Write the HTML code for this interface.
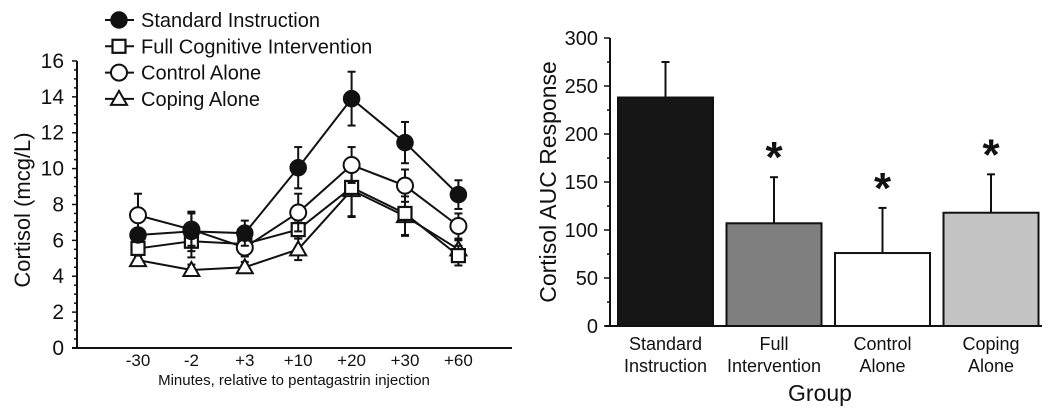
<!DOCTYPE html>
<html><head><meta charset="utf-8"><style>
body{margin:0;background:#fff}
svg text{font-family:"Liberation Sans",Arial,sans-serif;fill:#111}
</style></head><body>
<svg id="c" width="1050" height="413" viewBox="0 0 1050 413" xmlns="http://www.w3.org/2000/svg"></svg>
<script>
const timeCats=["-30","-2","+3","+10","+20","+30","+60"];
const stdVals=[6.3,6.5,6.4,10.05,13.9,11.45,8.55];
const stdErr=[0.3,1.1,0.7,1.15,1.5,1.15,0.8];
const fullVals=[5.55,5.95,5.8,6.6,8.95,7.5,5.15];
const fullErr=[0.4,0.9,0.4,0.5,1.6,1.2,0.55];
const ctrlVals=[7.4,6.6,5.6,7.55,10.2,9.05,6.8];
const ctrlErr=[1.2,0.9,0.5,1.05,1.0,0.9,0.7];
const copVals=[4.9,4.35,4.5,5.5,8.8,7.35,5.5];
const copErr=[0.2,0.3,0.3,0.6,1.5,1.1,0.5];
const leftTicks=[0,2,4,6,8,10,12,14,16];
const groups=[["Standard","Instruction"],["Full","Intervention"],["Control","Alone"],["Coping","Alone"]];
const aucVals=[238,107,76,118];
const aucErr=[37,48,47,40];
const aucSig=[false,true,true,true];
const rightTicks=[0,50,100,150,200,250,300];

const svg=document.getElementById('c');
const NS="http://www.w3.org/2000/svg";
function mk(tag,attrs,parent){const e=document.createElementNS(NS,tag);for(const k in attrs)e.setAttribute(k,attrs[k]);(parent||svg).appendChild(e);return e;}
function txt(s,attrs,parent){const e=mk('text',attrs,parent);e.textContent=s;return e;}

// LEFT CHART
const ly=v=>348-v*17.94;
const lx=i=>138+i*53.4;
const L=mk('g',{});


let a=mk('line',{x1:77,y1:ly(16),x2:77,y2:348,stroke:'#111','stroke-width':2},L);

a=mk('line',{x1:72,y1:348,x2:512,y2:348,stroke:'#111','stroke-width':2},L);

for(let v=0;v<=16;v+=0.5){
  const major=leftTicks.includes(v);
  mk('line',{x1:major?72:74,y1:ly(v),x2:77,y2:ly(v),stroke:'#111','stroke-width':1.5},L);
}
leftTicks.forEach(v=>{const t=txt(String(v),{x:64,y:ly(v)+7,'text-anchor':'end','font-size':21},L);
});
timeCats.forEach((c,i)=>{const t=txt(c,{x:lx(i),y:366,'text-anchor':'middle','font-size':17},L);
});
let t=txt("Minutes, relative to pentagastrin injection",{x:294,y:385,'text-anchor':'middle','font-size':15},L);

t=txt("Cortisol (mcg/L)",{x:0,y:0,'text-anchor':'middle','font-size':22,transform:'translate(30,210) rotate(-90)'},L);


function marker(kind,x,y,g){
  let m;
  if(kind==='filled')m=mk('circle',{cx:x,cy:y,r:8,fill:'#111',stroke:'#111','stroke-width':1.5},g);
  else if(kind==='circle')m=mk('circle',{cx:x,cy:y,r:8,fill:'#fff',stroke:'#111','stroke-width':2},g);
  else if(kind==='square')m=mk('rect',{x:x-6.5,y:y-6.5,width:13,height:13,fill:'#fff',stroke:'#111','stroke-width':2.2},g);
  else m=mk('polygon',{points:`${x},${y-8} ${x-8},${y+6} ${x+8},${y+6}`,fill:'#fff',stroke:'#111','stroke-width':2},g);
  return m;
}
const series=[
  {name:'coping-alone',vals:copVals,err:copErr,kind:'tri'},
  {name:'full-cognitive-intervention',vals:fullVals,err:fullErr,kind:'square'},
  {name:'control-alone',vals:ctrlVals,err:ctrlErr,kind:'circle'},
  {name:'standard-instruction',vals:stdVals,err:stdErr,kind:'filled'}];
series.forEach(s=>{
  const g=mk('g',{},L);
  
  
  s.vals.forEach((v,i)=>{
    mk('line',{x1:lx(i),y1:ly(v-s.err[i]),x2:lx(i),y2:ly(v+s.err[i]),stroke:'#111','stroke-width':2},g);
    mk('line',{x1:lx(i)-4,y1:ly(v+s.err[i]),x2:lx(i)+4,y2:ly(v+s.err[i]),stroke:'#111','stroke-width':2},g);
    mk('line',{x1:lx(i)-4,y1:ly(v-s.err[i]),x2:lx(i)+4,y2:ly(v-s.err[i]),stroke:'#111','stroke-width':2},g);
  });
  const pl=mk('polyline',{points:s.vals.map((v,i)=>lx(i)+','+ly(v)).join(' '),fill:'none',stroke:'#111','stroke-width':2},g);
  
  s.vals.forEach((v,i)=>{const m=marker(s.kind,lx(i),ly(v),g);
    });
});
// legend
const leg=[['Standard Instruction','filled'],['Full Cognitive Intervention','square'],['Control Alone','circle'],['Coping Alone','tri']];
leg.forEach((l,i)=>{
  const y=20+i*26.3;
  const g=mk('g',{},L);
  
  
  mk('line',{x1:105,y1:y,x2:134,y2:y,stroke:'#111','stroke-width':2},g);
  marker(l[1],119,y,g);
  txt(l[0],{x:141,y:y+7,'font-size':20},g);
});

// RIGHT CHART
const ry=v=>326-v*0.96;
const bx=i=>618+i*108.5;
const bw=95;
const R=mk('g',{});


const fills=['#161616','#7f7f7f','#ffffff','#c4c4c4'];
aucVals.forEach((v,i)=>{
  const g=mk('g',{},R);
  
  
  mk('line',{x1:bx(i)+bw/2,y1:ry(v),x2:bx(i)+bw/2,y2:ry(v+aucErr[i]),stroke:'#111','stroke-width':2},g);
  mk('line',{x1:bx(i)+bw/2-4,y1:ry(v+aucErr[i]),x2:bx(i)+bw/2+4,y2:ry(v+aucErr[i]),stroke:'#111','stroke-width':2},g);
  const r=mk('rect',{x:bx(i),y:ry(v),width:bw,height:326-ry(v),fill:fills[i],stroke:'#111','stroke-width':2},g);
  
  if(aucSig[i]){const s=txt('*',{x:bx(i)+bw/2,y:ry(v+aucErr[i])-5,'text-anchor':'middle','font-size':44,'font-weight':'bold'},g);
    }
  const lb=txt(groups[i][0],{x:bx(i)+bw/2,y:350,'text-anchor':'middle','font-size':18},g);
  
  txt(groups[i][1],{x:bx(i)+bw/2,y:372,'text-anchor':'middle','font-size':18},g);
});
a=mk('line',{x1:610,y1:ry(300),x2:610,y2:326,stroke:'#111','stroke-width':2},R);

a=mk('line',{x1:605,y1:326,x2:1042,y2:326,stroke:'#111','stroke-width':2},R);

for(let v=0;v<=300;v+=25){const major=rightTicks.includes(v);
  mk('line',{x1:major?604:607,y1:ry(v),x2:610,y2:ry(v),stroke:'#111','stroke-width':1.5},R);}
rightTicks.forEach(v=>{const tt=txt(String(v),{x:598,y:ry(v)+7,'text-anchor':'end','font-size':20},R);
  });
t=txt("Cortisol AUC Response",{x:0,y:0,'text-anchor':'middle','font-size':23,transform:'translate(556,182) rotate(-90)'},R);

t=txt("Group",{x:820,y:401,'text-anchor':'middle','font-size':23},R);

</script>
</body></html>
